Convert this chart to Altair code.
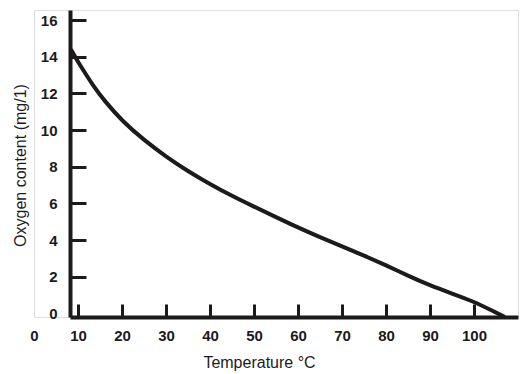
import altair as alt
import pandas as pd

# Curve
temperature = [8.4, 10, 13.5, 16, 20, 25, 30, 35, 40, 45, 50, 55, 60, 65, 70, 75, 80, 85, 90, 95, 100, 104, 107]
oxygen = [14.4, 13.7, 12.4, 11.6, 10.5, 9.45, 8.55, 7.75, 7.05, 6.4, 5.82, 5.25, 4.68, 4.15, 3.65, 3.15, 2.62, 2.05, 1.52, 1.08, 0.64, 0.16, -0.2]

x_ticks = [0, 10, 20, 30, 40, 50, 60, 70, 80, 90, 100]
y_ticks = [0, 2, 4, 6, 8, 10, 12, 14, 16]

df = pd.DataFrame({"t": temperature, "o": oxygen})

INK = "#1c1a1b"
FONT = "Liberation Sans"

chart = (
    alt.Chart(df)
    .mark_line(color=INK, strokeWidth=4, interpolate="basis", strokeCap="butt")
    .encode(
        x=alt.X(
            "t:Q",
            scale=alt.Scale(domain=[0, 110], nice=False, zero=False),
            axis=alt.Axis(
                values=x_ticks,
                title="Temperature °C",
                grid=False,
                labelFlush=False,
                domainColor=INK,
                domainWidth=4,
                domainDash=[0, 36, 1000],
                tickColor=INK,
                tickWidth=3,
                tickSize={"expr": "-13"},
                tickOpacity={"expr": "datum.value == 0 ? 0 : 1"},
                labelPadding=24,
                labelFont=FONT,
                labelFontSize=15,
                labelFontWeight="bold",
                labelColor=INK,
                titleFont=FONT,
                titleFontSize=16,
                titleFontWeight="normal",
                titleColor=INK,
                titleX=225,
                titleY=50,
                titleBaseline="alphabetic",
            ),
        ),
        y=alt.Y(
            "o:Q",
            scale=alt.Scale(domain=[-0.2, 16.55], nice=False, zero=False),
            axis=alt.Axis(
                values=y_ticks,
                title="Oxygen content (mg/1)",
                grid=False,
                offset=-36,
                domainColor=INK,
                domainWidth=4,
                tickColor=INK,
                tickWidth=3,
                tickSize={"expr": "-16"},
                tickOpacity={"expr": "datum.value == 0 ? 0 : 1"},
                labelPadding=29,
                labelFont=FONT,
                labelFontSize=15,
                labelFontWeight="bold",
                labelColor=INK,
                titleFont=FONT,
                titleFontSize=16,
                titleFontWeight="normal",
                titleColor=INK,
                titleX=-45,
                titleY=155,
                titleBaseline="alphabetic",
            ),
        ),
    )
    .properties(
        width=484,
        height=307,
        autosize=alt.AutoSizeParams(type="none"),
        padding={"left": 26, "top": 2, "right": 6, "bottom": 56},
    )
    .configure_view(stroke=None)
    .configure(background="white")
)

chart.save("out.html", embed_options={"renderer": "svg", "actions": False})
